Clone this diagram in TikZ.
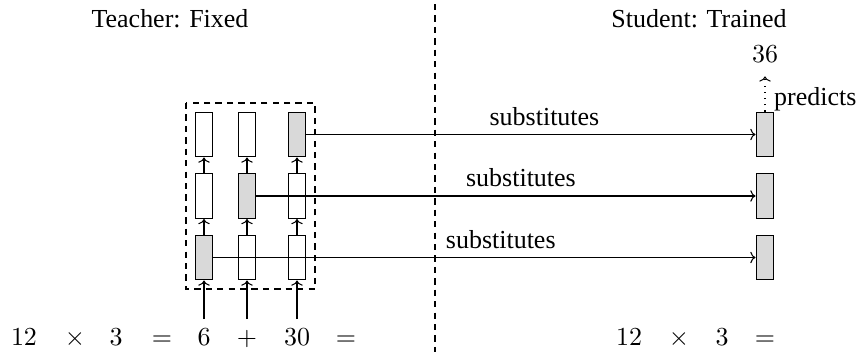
\documentclass[tikz,border=0pt]{standalone}
\usepackage{fontspec}
\setmainfont{Liberation Serif}
\usetikzlibrary{arrows.meta}
\begin{document}
\begin{tikzpicture}[x=0.385pt,y=-0.385pt,>={To[length=2pt,width=4.4pt]},
  cell node/.style={rectangle,draw,fill=white,inner sep=0pt,minimum width=6.9pt,minimum height=17.3pt},
  hot node/.style={cell node,fill=gray!30},
  tok node/.style={anchor=base,text height=6.44pt,text depth=0pt},
  sep line/.style={dash pattern=on 2.4pt off 2pt}]

  \useasboundingbox (0,0) rectangle (863,354);

  \node[anchor=base] (teach) at (170,27) {Teacher: Fixed};
  \node[anchor=base] (stud) at (699,27) {Student: Trained};

  \draw[sep line] (435,4) -- (435,352);
  \draw[sep line] (186,103) rectangle (315,289);

  % teacher columns
  \node[hot node] (11) at (204,257.5) {};
  \node[cell node] (12) at (204,196) {};
  \node[cell node] (13) at (204,134.5) {};
  \node[cell node] (21) at (247,257.5) {};
  \node[hot node] (22) at (247,196) {};
  \node[cell node] (23) at (247,134.5) {};
  \node[cell node] (31) at (297,257.5) {};
  \node[cell node] (32) at (297,196) {};
  \node[hot node] (33) at (297,134.5) {};

  % student column
  \node[hot node] (41) at (765,257.5) {};
  \node[hot node] (42) at (765,196) {};
  \node[hot node] (43) at (765,134.5) {};
  \node[tok node] (out) at (765,62) {$36$};

  % tokens
  \node[tok node] (w1) at (24,345) {$12$};
  \node[tok node] (w2) at (75,345) {$\times$};
  \node[tok node] (w3) at (116,345) {$3$};
  \node[tok node] (w4) at (162,345) {$=$};
  \node[tok node] (w5) at (204,345) {$6$};
  \node[tok node] (w6) at (247,345) {$+$};
  \node[tok node] (w7) at (297,345) {$30$};
  \node[tok node] (w8) at (346,345) {$=$};
  \node[tok node] (v1) at (629,345) {$12$};
  \node[tok node] (v2) at (679,345) {$\times$};
  \node[tok node] (v3) at (722,345) {$3$};
  \node[tok node] (v4) at (765,345) {$=$};

  \path[->]
   (w5) edge (11)
   (w6) edge (21)
   (w7) edge (31)
   (11) edge (12)
   (12) edge (13)
   (21) edge (22)
   (22) edge (23)
   (31) edge (32)
   (32) edge (33)
   (11) edge node[above,pos=0.53]{substitutes} (41)
   (22) edge node[above,pos=0.53]{substitutes} (42)
   (33) edge node[above,pos=0.53]{substitutes} (43)
   (43) edge[dotted,shorten >=2pt] node[right,pos=0.3]{predicts} (out);
\end{tikzpicture}
\end{document}
